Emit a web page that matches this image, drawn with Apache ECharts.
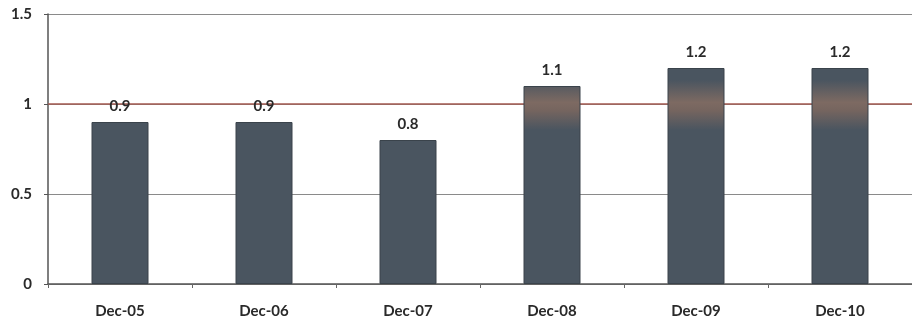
<!DOCTYPE html>
<html>
<head>
<meta charset="utf-8">
<script src="https://cdn.jsdelivr.net/npm/echarts@6/dist/echarts.min.js"></script>
<style>
  html, body { margin: 0; padding: 0; background: #fff; }
  #chart { width: 912px; height: 323px; }
</style>
</head>
<body>
<div id="chart"></div>
<script>
// Year-end values
const categories = ['Dec-05', 'Dec-06', 'Dec-07', 'Dec-08', 'Dec-09', 'Dec-10'];
const values = [0.9, 0.9, 0.8, 1.1, 1.2, 1.2];
const yTicks = [0, 0.5, 1, 1.5];
const referenceLevel = 1;

const barBase = '#4a5560';
// warm tint where the bars cross the reference line
const warmBar = {
  type: 'linear', global: true, x: 0, y: 80, x2: 0, y2: 130,
  colorStops: [
    { offset: 0, color: barBase },
    { offset: 0.45, color: '#7d6a62' },
    { offset: 0.6, color: '#76655f' },
    { offset: 1, color: barBase }
  ]
};

const chart = echarts.init(document.getElementById('chart'), null, { renderer: 'canvas' });
const font = 'Lato, "Open Sans", sans-serif';

chart.setOption({
  animation: false,
  backgroundColor: '#ffffff',
  grid: { left: 48, top: 14, width: 873, height: 270, containLabel: false },
  xAxis: {
    type: 'category',
    data: categories,
    axisLine: { lineStyle: { color: '#555', width: 1.5 } },
    axisTick: { show: true, length: 4, lineStyle: { color: '#666' } },
    axisLabel: { margin: 20, color: '#2a2a2a', fontFamily: font, fontWeight: 'bold', fontSize: 15 }
  },
  yAxis: {
    type: 'value',
    min: yTicks[0],
    max: yTicks[yTicks.length - 1],
    interval: yTicks[1] - yTicks[0],
    axisLine: { show: true, lineStyle: { color: '#555', width: 1.5 } },
    axisTick: { show: true, length: 4, lineStyle: { color: '#555' } },
    axisLabel: {
      margin: 16, color: '#2a2a2a', fontFamily: font, fontWeight: 'bold', fontSize: 15,
      formatter: v => String(v)
    },
    splitLine: { show: true, lineStyle: { color: '#8a8a8a', width: 1 } }
  },
  series: [{
    type: 'bar',
    barWidth: 57,
    data: values.map(v => ({
      value: v,
      itemStyle: { color: v > referenceLevel ? warmBar : barBase }
    })),
    itemStyle: { borderColor: '#3a434b', borderWidth: 1 },
    label: {
      show: true, position: 'top', distance: 8,
      color: '#2a2a2a', fontFamily: font, fontWeight: 'bold', fontSize: 15,
      formatter: p => p.value.toFixed(1)
    },
    markLine: {
      silent: true, symbol: 'none', z: 1,
      label: { show: false },
      lineStyle: { color: '#a35a50', width: 1.5, type: 'solid' },
      data: [{ yAxis: referenceLevel }]
    },
    z: 3
  }]
});
</script>
</body>
</html>
